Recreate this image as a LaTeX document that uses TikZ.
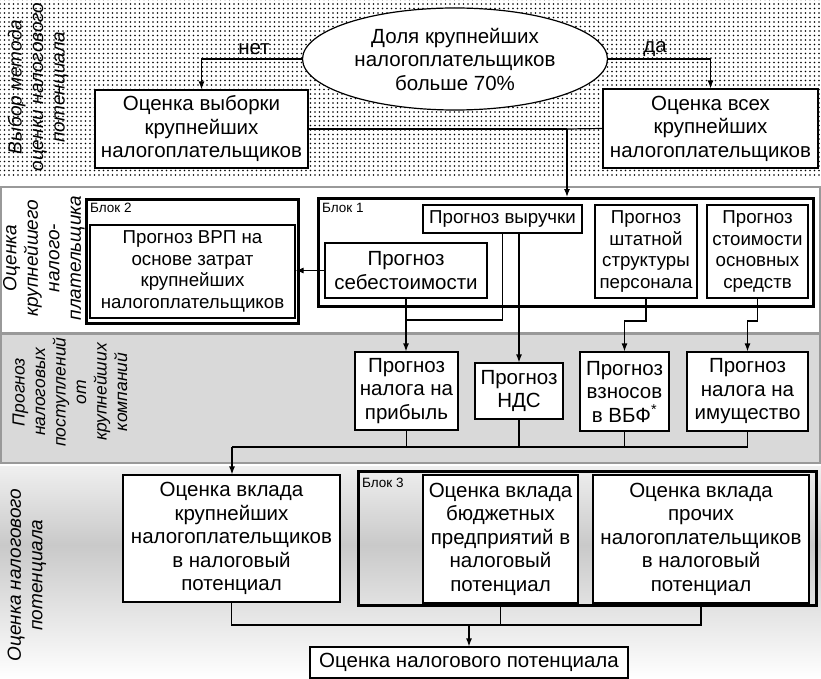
\documentclass[tikz,border=0pt]{standalone}
\usepackage{fontspec}
\setmainfont{Liberation Sans}
\usetikzlibrary{shapes.geometric,arrows.meta,patterns.meta,calc}
\begin{document}
\begin{tikzpicture}[x=1pt,y=-1pt,
  pbox/.style={draw,line width=1.2pt,fill=white,inner sep=0pt,align=center,font=\fontsize{20.5}{23.5}\selectfont},
  sbox/.style={pbox,font=\fontsize{18.7}{21.5}\selectfont},
  blkframe/.style={draw,line width=3pt,inner sep=0pt},
  blab/.style={anchor=north west,inner sep=0pt,font=\fontsize{13.5}{15}\selectfont},
  sidelab/.style={rotate=90,align=center,inner sep=0pt,font=\itshape\fontsize{19}{21.5}\selectfont},
  conn/.style={line width=1.2pt},
  arr/.style={conn,-{Latex[length=8pt,width=6pt]}},
  bandline/.style={draw=gray!80,line width=2.5pt}
]
\useasboundingbox (0,0) rectangle (821,679);
% ---------- bands ----------
\fill[white] (0,0) rectangle (821,679);
\fill[pattern={Dots[distance=4.5pt,radius=0.8pt]},pattern color=black] (0,0) rectangle (821,177);
\path[bandline,fill=white] (1,187) rectangle (820,333);
\path[bandline,fill=gray!30] (1,334) rectangle (820,463);
\shade[top color=gray!12,bottom color=gray!42] (0,466) rectangle (821,545);
\shade[top color=gray!42,bottom color=white] (0,545) rectangle (821,679);
% ---------- side labels ----------
\node[sidelab] (s1) at (38,87) {Выбор метода\\оценки налогового\\потенциала};
\node[sidelab] (s2) at (44,258) {Оценка\\крупнейшего\\налого-\\плательщика};
\node[sidelab,font=\itshape\fontsize{17.5}{20.5}\selectfont] (s3) at (70,392) {Прогноз\\налоговых\\поступлений\\от\\крупнейших\\компаний};
\node[sidelab] (s4) at (27,575) {Оценка налогового\\потенциала};
% ---------- band 1 ----------
\node[ellipse,draw,line width=1.2pt,fill=white,minimum width=305pt,minimum height=102pt,inner sep=0pt,align=center,font=\fontsize{20.5}{23.5}\selectfont] (ell) at (455,59) {Доля крупнейших\\налогоплательщиков\\больше 70\%};
\node[pbox,minimum width=213pt,minimum height=78pt] (selL) at (201.5,129) {Оценка выборки\\крупнейших\\налогоплательщиков};
\node[pbox,minimum width=215pt,minimum height=79pt] (selR) at (710.5,128.5) {Оценка всех\\крупнейших\\налогоплательщиков};
\node[inner sep=0pt,font=\fontsize{20.5}{23.5}\selectfont] (net) at (254,49) {нет};
\node[inner sep=0pt,font=\fontsize{20.5}{23.5}\selectfont] (da) at (655,49) {да};
% ---------- band 2 ----------
\node[blkframe,minimum width=212pt,minimum height=124pt] (blk2) at (192.5,261.5) {};
\node[blab] (blk2l) at (90,203) {Блок 2};
\node[sbox,minimum width=205pt,minimum height=93pt] (vrp) at (192.5,271.5) {Прогноз ВРП на\\основе затрат\\крупнейших\\налогоплательщиков};
\node[blkframe,minimum width=495pt,minimum height=108pt] (blk1) at (566,252.5) {};
\node[blab] (blk1l) at (322,203) {Блок 1};
\node[sbox,minimum width=159pt,minimum height=28pt] (rev) at (502.5,219) {Прогноз выручки};
\node[pbox,minimum width=162pt,minimum height=55pt] (cost) at (406,270.5) {Прогноз\\себестоимости};
\node[sbox,minimum width=102pt,minimum height=93pt] (staff) at (646,251.5) {Прогноз\\штатной\\структуры\\персонала};
\node[sbox,minimum width=101pt,minimum height=93pt] (assets) at (757.5,251.5) {Прогноз\\стоимости\\основных\\средств};
% ---------- band 3 ----------
\node[pbox,minimum width=103pt,minimum height=78pt] (tprof) at (406.5,391) {Прогноз\\налога на\\прибыль};
\node[pbox,minimum width=88pt,minimum height=56pt] (vat) at (519,391) {Прогноз\\НДС};
\node[pbox,minimum width=89pt,minimum height=79pt] (vbf) at (624.5,391.5) {Прогноз\\взносов\\в ВБФ\textsuperscript{*}};
\node[pbox,minimum width=121pt,minimum height=79pt] (prop) at (747.5,391.5) {Прогноз\\налога на\\имущество};
% ---------- band 4 ----------
\node[pbox,minimum width=217pt,minimum height=127pt] (cL) at (231.5,538.5) {Оценка вклада\\крупнейших\\налогоплательщиков\\в налоговый\\потенциал};
\node[blkframe,minimum width=458pt,minimum height=134pt] (blk3) at (587.5,538.5) {};
\node[blab] (blk3l) at (362,478) {Блок 3};
\node[pbox,minimum width=155pt,minimum height=128pt] (cB) at (500.5,539) {Оценка вклада\\бюджетных\\предприятий в\\налоговый\\потенциал};
\node[pbox,minimum width=216pt,minimum height=128pt] (cO) at (701,539) {Оценка вклада\\прочих\\налогоплательщиков\\в налоговый\\потенциал};
\node[pbox,minimum width=318pt,minimum height=31pt] (fin) at (469,662.5) {Оценка налогового потенциала};
% ---------- connectors ----------
\coordinate (j1) at (567,129);
\draw[arr] (ell.west) -| (selL.north);
\draw[arr] (ell.east) -| (selR.north);
\draw[conn] (selL.east) -- (j1);
\draw[conn] (selR.west) -- (j1);
\draw[arr] (j1) -- (j1 |- blk1.north);
\draw[arr] (cost.west) -- (vrp.east |- cost.west);
\coordinate (j2) at (406,320);
\draw[arr] (cost.south) -- (cost.south |- tprof.north);
\draw[conn] (rev.south) |- (j2);
\draw[arr] (rev.south -| vat.north) -- (vat.north);
\coordinate (j3) at (624.5,321);
\coordinate (j4) at (747.5,321);
\draw[arr] (staff.south) |- (j3) -- (vbf.north);
\draw[arr] (assets.south) |- (j4) -- (prop.north);
\coordinate (j5) at (232,447);
\draw[conn] (tprof.south) -- (tprof.south |- j5);
\draw[conn] (vat.south) -- (vat.south |- j5);
\draw[conn] (vbf.south) -- (vbf.south |- j5);
\draw[conn] (prop.south) -- (prop.south |- j5);
\draw[conn] (j5) -- (prop.south |- j5);
\draw[arr] (j5) -- (j5 |- cL.north);
\coordinate (j6) at (231.5,625);
\draw[conn] (cL.south) -- (j6) -- (cO.south |- j6) -- (cO.south);
\draw[conn] (cB.south) -- (cB.south |- j6);
\draw[arr] (fin.north |- j6) -- (fin.north);
\end{tikzpicture}
\end{document}
